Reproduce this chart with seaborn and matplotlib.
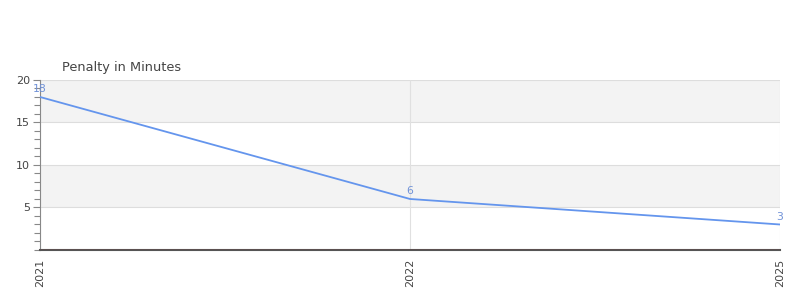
import matplotlib
matplotlib.use("Agg")
import matplotlib.pyplot as plt
import seaborn as sns
import pandas as pd
from matplotlib.ticker import MultipleLocator

years = ["2021", "2022", "2025"]
penalty = [18, 6, 3]
title = "Penalty in Minutes"
y_ticks = [5, 10, 15, 20]

sns.set_style("white")
plt.rcParams['font.family'] = ['DejaVu Sans']

df = pd.DataFrame({"year": years, "penalty": penalty})

fig = plt.figure(figsize=(8, 3), dpi=100)
ax = fig.add_axes([0.05, 0.1667, 0.925, 0.5667])

# alternating bands
ax.axhspan(15, 20, color="#f3f3f3", zorder=0, lw=0)
ax.axhspan(5, 10, color="#f3f3f3", zorder=0, lw=0)

sns.lineplot(data=df, x="year", y="penalty", sort=False, ax=ax,
             color="#6495ED", linewidth=1.3, zorder=3)

for i, (yr, v) in enumerate(zip(years, penalty)):
    ax.annotate(str(v), (i, v), xytext=(0, 2), textcoords="offset points",
                ha="center", va="bottom", fontsize=7.8, color="#7092d8", zorder=4)

ax.set_xlim(0, len(years) - 1)
ax.set_ylim(0, 20)
ax.set_yticks(y_ticks)
ax.yaxis.set_minor_locator(MultipleLocator(1))
ax.set_xticks(range(len(years)))
ax.set_xticklabels(years, rotation=90)

for y in y_ticks:
    ax.axhline(y, color="#dddddd", lw=0.8, zorder=1)
for i in range(len(years)):
    ax.axvline(i, color="#e0e0e0", lw=0.8, zorder=1)

ax.axhline(0, color="#cc0000", lw=0.8, zorder=5)

ax.set_xlabel("")
ax.set_ylabel("")
ax.tick_params(axis="y", which="major", left=True, length=5, width=0.8,
               color="#888888", labelsize=8, labelcolor="#444444", pad=2)
ax.tick_params(axis="y", which="minor", left=True, length=4, width=0.8,
               color="#888888")
ax.tick_params(axis="x", length=0, labelsize=8, labelcolor="#444444", pad=6)

for s in ["top", "right"]:
    ax.spines[s].set_visible(False)
ax.spines["left"].set_color("#888888")
ax.spines["left"].set_linewidth(0.8)
ax.spines["bottom"].set_color("#555555")
ax.spines["bottom"].set_linewidth(1.5)

fig.text(62 / 800, 1 - 67 / 300, title, fontsize=9.3, color="#444444",
         ha="left", va="center")

fig.savefig("out.png", dpi=100)
